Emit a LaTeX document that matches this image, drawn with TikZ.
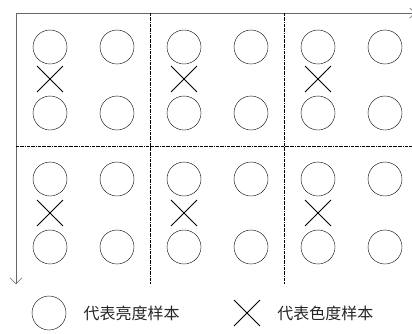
\documentclass[tikz,border=0pt]{standalone}
\usepackage{fontspec}
\newfontfamily\cjk{Noto Sans CJK SC}
\usetikzlibrary{arrows.meta, shapes.misc}

\begin{document}
\begin{tikzpicture}[x=1pt, y=-1pt,
    luma/.style={circle, draw, thin, minimum size=34pt, inner sep=0pt},
    chroma/.style={cross out, draw, line width=0.9pt, minimum size=25pt, inner sep=0pt},
    legtext/.style={right=14pt, font=\cjk\fontsize{16}{18}\selectfont, text=black!85},
    divline/.style={densely dashdotted, very thin}]
    \useasboundingbox (0,0) rectangle (412,333);
    \clip (0,0) rectangle (412,333);
    % axes
    \coordinate (o) at (16,13);
    \coordinate (xend) at (415,13);
    \coordinate (yend) at (16,284);
    \draw[thin, gray!80!black, -{Straight Barb[length=5pt, width=10pt]}] (o) -- (xend);
    \draw[thin, gray!80!black, -{Straight Barb[length=6pt, width=12pt]}] (o) -- (yend);
    % block borders
    \foreach \x in {150, 284} \draw[divline] (\x,13) -- (\x,284);
    \draw[divline] (16,146) -- (412,146);
    % samples
    \foreach \b/\bx in {1/50, 2/184, 3/318} {
        \foreach \r/\ry in {1/47, 2/113, 3/179, 4/247} {
            \node[luma] (y\b\r a) at (\bx,\ry) {};
            \node[luma] (y\b\r b) at (\bx+67,\ry) {};
        }
        \node[chroma] (c\b1) at (\bx,79) {};
        \node[chroma] (c\b2) at (\bx,213) {};
    }
    % legend
    \node[luma] (lgl) at (49,313) {};
    \node[legtext] (lgltext) at (lgl.east) {代表亮度样本};
    \node[chroma] (lgc) at (247,313) {};
    \node[legtext] (lgctext) at (lgc.east) {代表色度样本};
\end{tikzpicture}
\end{document}
